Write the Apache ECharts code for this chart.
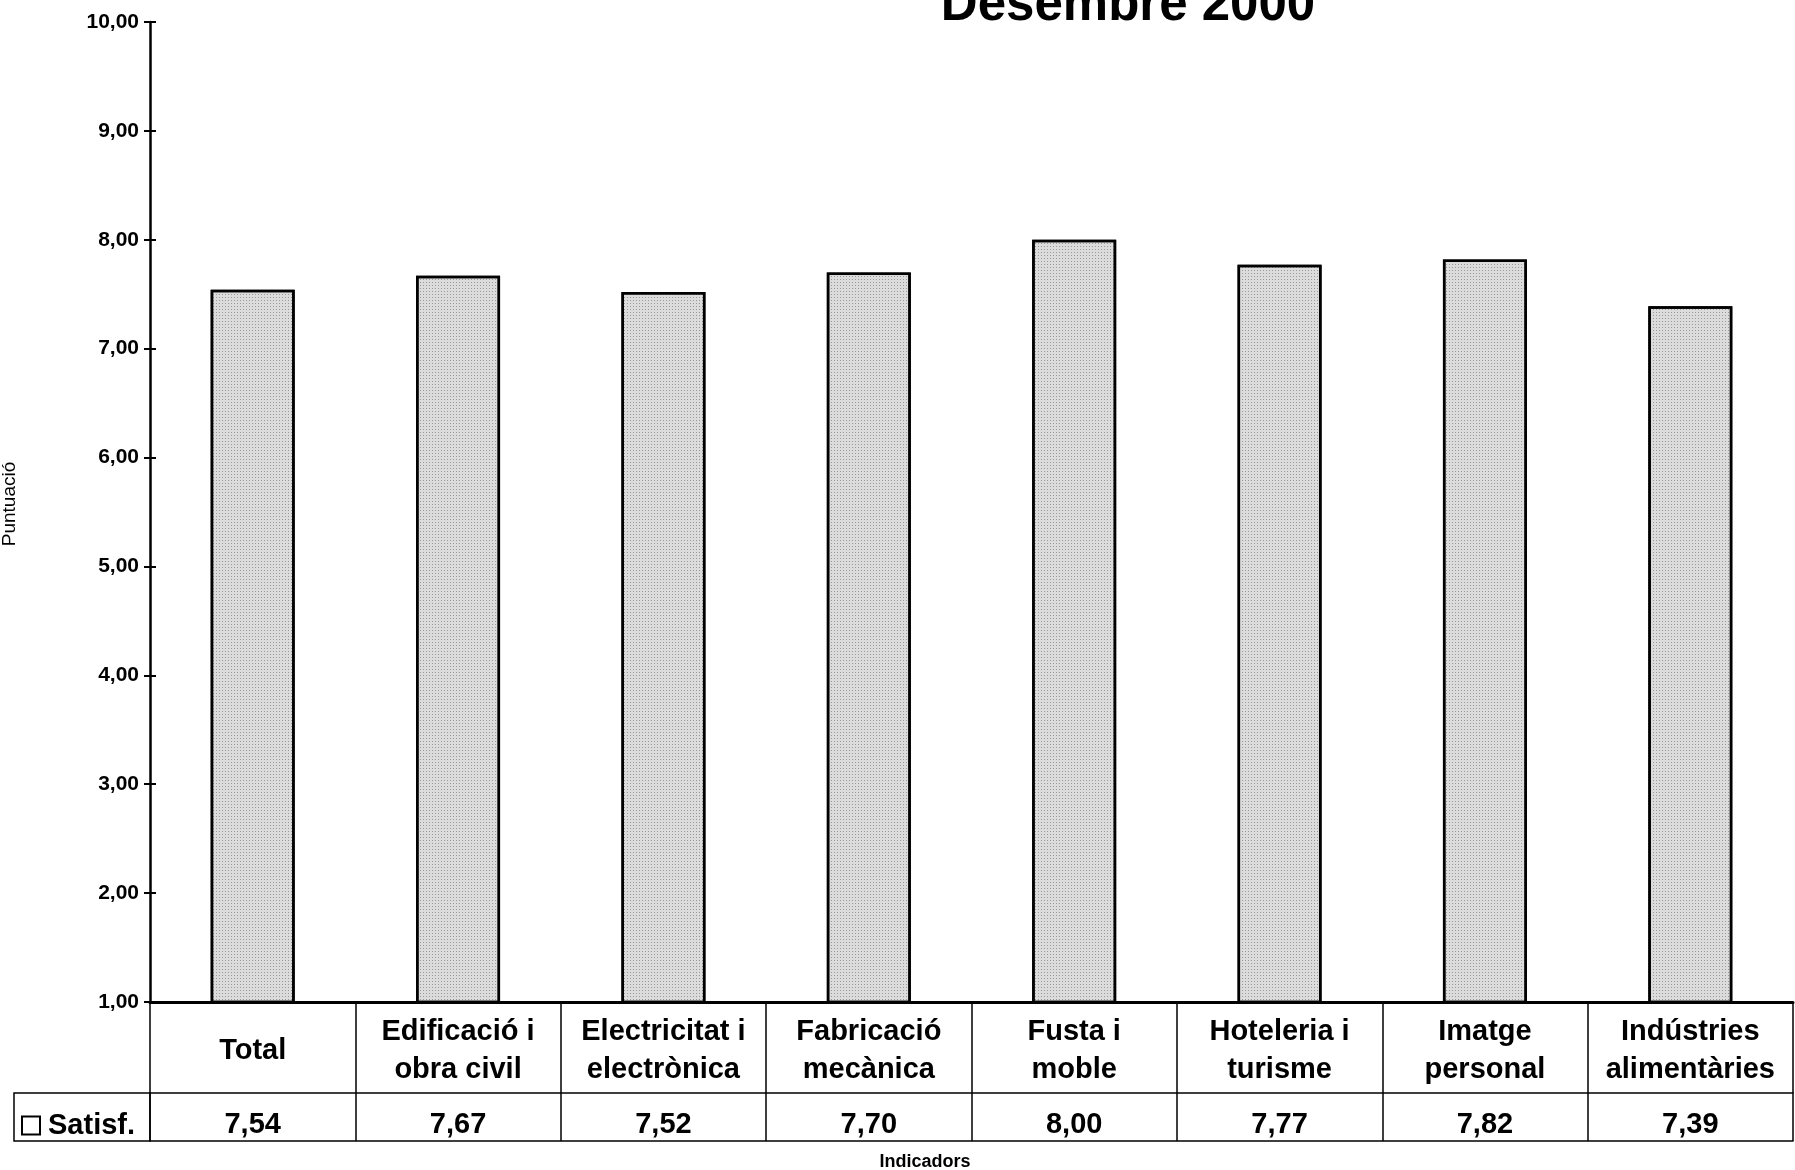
<!DOCTYPE html>
<html>
<head>
<meta charset="UTF-8">
<title>Satisfacció - Desembre 2000</title>
<script src="https://cdn.jsdelivr.net/npm/echarts@6/dist/echarts.min.js"></script>
<style>
  html, body { margin: 0; padding: 0; background: #fff; }
</style>
</head>
<body>
<div id="main" style="width: 1795px;height:1170px;"></div>

<script type="text/javascript">
// dades del gràfic
var categories = ['Total', 'Edificació i\nobra civil', 'Electricitat i\nelectrònica', 'Fabricació\nmecànica',
                  'Fusta i\nmoble', 'Hoteleria i\nturisme', 'Imatge\npersonal', 'Indústries\nalimentàries'];
var satisf = [7.54, 7.67, 7.52, 7.70, 8.00, 7.77, 7.82, 7.39];
var yMin = 1, yMax = 10, yStep = 1;

function fmt(v) {
    return v.toFixed(2).replace('.', ',');
}

var font = 'Liberation Sans';

var myChart = echarts.init(document.getElementById('main'));

var option = {
    backgroundColor: '#fff',
    animation: false,
    title: {
        text: 'Desembre 2000',
        left: 1128,
        textAlign: 'center',
        top: -20,
        padding: 0,
        textStyle: { fontFamily: font, fontWeight: 'bold', fontSize: 51, color: '#000' }
    },
    legend: {
        data: ['Satisf.'],
        left: 21,
        top: 1111,
        padding: 0,
        icon: 'rect',
        itemWidth: 18,
        itemHeight: 18,
        itemStyle: { color: '#fff', borderColor: '#000', borderWidth: 2, decal: 'none' },
        textStyle: { fontFamily: font, fontWeight: 'bold', fontSize: 29, color: '#000', padding: [0, 0, 0, 3] }
    },
    grid: {
        left: 150,
        right: 2,
        top: 22,
        bottom: 168,
        outerBoundsMode: 'none'
    },
    xAxis: [
        {   // fila de categories
            type: 'category',
            data: categories,
            position: 'bottom',
            axisLine: { lineStyle: { color: '#000', width: 3 } },
            axisTick: { show: true, length: 139, interval: 0, lineStyle: { color: '#000', width: 1.5 } },
            axisLabel: {
                interval: 0,
                margin: 49,
                verticalAlign: 'middle',
                lineHeight: 38,
                fontFamily: font,
                fontWeight: 'bold',
                fontSize: 29,
                color: '#000'
            }
        },
        {   // fila de valors
            type: 'category',
            data: satisf.map(fmt),
            position: 'bottom',
            offset: 91,
            axisLine: { lineStyle: { color: '#000', width: 1.5 } },
            axisTick: { show: false },
            axisLabel: {
                interval: 0,
                margin: 32,
                verticalAlign: 'middle',
                fontFamily: font,
                fontWeight: 'bold',
                fontSize: 29,
                color: '#000'
            }
        },
        {   // vora inferior de la taula
            type: 'category',
            data: categories,
            position: 'bottom',
            offset: 139,
            axisLine: { lineStyle: { color: '#000', width: 1.5 } },
            axisTick: { show: false },
            axisLabel: { show: false }
        }
    ],
    yAxis: [
        {
            type: 'value',
            min: yMin,
            max: yMax,
            interval: yStep,
            name: 'Puntuació',
            nameLocation: 'middle',
            nameRotate: 90,
            nameGap: 131,
            nameTextStyle: { fontFamily: font, fontSize: 19, color: '#000', padding: [0, 0, 0, 16] },
            axisLine: { show: true, lineStyle: { color: '#000', width: 2.5 } },
            axisTick: { show: true, length: 6, lineStyle: { color: '#000', width: 2 } },
            splitLine: { show: false },
            axisLabel: {
                margin: 11,
                fontFamily: font,
                fontWeight: 'bold',
                fontSize: 21,
                color: '#000',
                formatter: function (v) { return fmt(v); }
            }
        },
        {   // marques interiors (creu)
            type: 'value',
            min: yMin,
            max: yMax,
            interval: yStep,
            position: 'left',
            axisLine: { show: false },
            axisTick: { show: true, inside: true, length: 6, lineStyle: { color: '#000', width: 2 } },
            axisLabel: { show: false },
            splitLine: { show: false }
        }
    ],
    series: [
        {
            name: 'Satisf.',
            type: 'bar',
            xAxisIndex: 0,
            yAxisIndex: 0,
            barWidth: 84,
            data: satisf,
            itemStyle: {
                color: '#dcdcdc',
                borderColor: '#000',
                borderWidth: 2.5,
                decal: {
                    symbol: 'rect',
                    symbolSize: 1,
                    dashArrayX: [1, 2],
                    dashArrayY: [1, 2],
                    color: 'rgba(0,0,0,0.3)'
                }
            }
        }
    ],
    graphic: [
        {   // cel·la de la llegenda
            type: 'rect',
            shape: { x: 14, y: 1093, width: 136, height: 48 },
            style: { fill: 'none', stroke: '#000', lineWidth: 1.5 }
        },
        {
            type: 'text',
            x: 925,
            y: 1162,
            style: {
                text: 'Indicadors',
                fontFamily: font,
                fontWeight: 'bold',
                fontSize: 18,
                fill: '#000',
                align: 'center',
                verticalAlign: 'middle'
            }
        }
    ]
};

myChart.setOption(option);
</script>
</body>
</html>
